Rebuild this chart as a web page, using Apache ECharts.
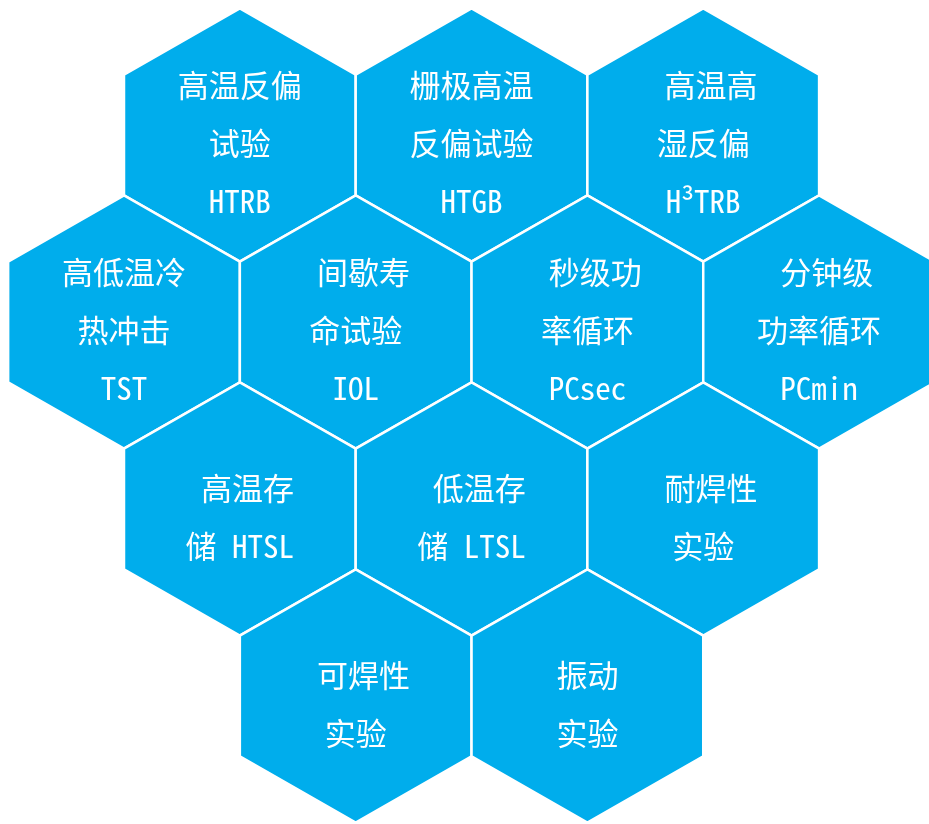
<!DOCTYPE html>
<html>
<head>
<meta charset="utf-8">
<script src="https://cdn.jsdelivr.net/npm/echarts@6/dist/echarts.min.js"></script>
<style>
html,body{margin:0;padding:0;background:#fff;}
#chart{width:929px;height:824px;}
</style>
</head>
<body>
<div id="chart"></div>
<script>
// Hex cell labels (half-width en-space prefixes reproduce the original centring)
const labels = [
  "高温反偏\n试验\nHTRB",
  "栅极高温\n反偏试验\nHTGB",
  "\u2002高温高\n湿反偏\nH³TRB",
  "高低温冷\n热冲击\nTST",
  "\u2002间歇寿\n命试验\nIOL",
  "\u2002秒级功\n率循环\nPCsec",
  "\u2002分钟级\n功率循环\nPCmin",
  "\u2002高温存\n储 HTSL",
  "\u2002低温存\n储 LTSL",
  "\u2002耐焊性\n实验",
  "\u2002可焊性\n实验",
  "振动\n实验"
];
// honeycomb grid coordinates (half-column index, row index)
const cols = [1, 3, 5, 0, 2, 4, 6, 1, 3, 5, 2, 4];
const rows = [0, 0, 0, 1, 1, 1, 1, 2, 2, 2, 3, 3];

const data = cols.map((c, i) => [c, rows[i], i]);

const chart = echarts.init(document.getElementById('chart'), null, {renderer: 'canvas'});

const FONT = "31px 'Noto Sans Mono CJK SC', 'Noto Sans CJK SC', sans-serif";

chart.setOption({
  animation: false,
  backgroundColor: '#ffffff',
  grid: {left: 0, top: 0, width: 929, height: 824, containLabel: false},
  xAxis: {type: 'value', min: -1.0703, max: 6.9487, show: false},
  yAxis: {type: 'value', min: -0.7219, max: 3.6845, inverse: true, show: false},
  series: [{
    type: 'custom',
    coordinateSystem: 'cartesian2d',
    encode: {x: 0, y: 1},
    clip: false,
    data: data,
    renderItem: function (params, api) {
      const p = api.coord([api.value(0), api.value(1)]);
      const s = api.size([1, 1]);
      const hw = s[0];
      const R = s[1] * 0.677;
      const sh = s[1] * 0.323;
      const pts = [
        [p[0], p[1] - R],
        [p[0] + hw, p[1] - sh],
        [p[0] + hw, p[1] + sh],
        [p[0], p[1] + R],
        [p[0] - hw, p[1] + sh],
        [p[0] - hw, p[1] - sh]
      ];
      return {
        type: 'group',
        children: [{
          type: 'polygon',
          shape: {points: pts},
          style: {fill: '#00ADEC', stroke: '#ffffff', lineWidth: 2.5}
        }, {
          type: 'text',
          x: p[0],
          y: p[1] + 8,
          style: {
            text: labels[api.value(2)],
            fill: '#ffffff',
            font: FONT,
            align: 'center',
            verticalAlign: 'middle',
            lineHeight: 58
          }
        }]
      };
    }
  }]
});
</script>
</body>
</html>
